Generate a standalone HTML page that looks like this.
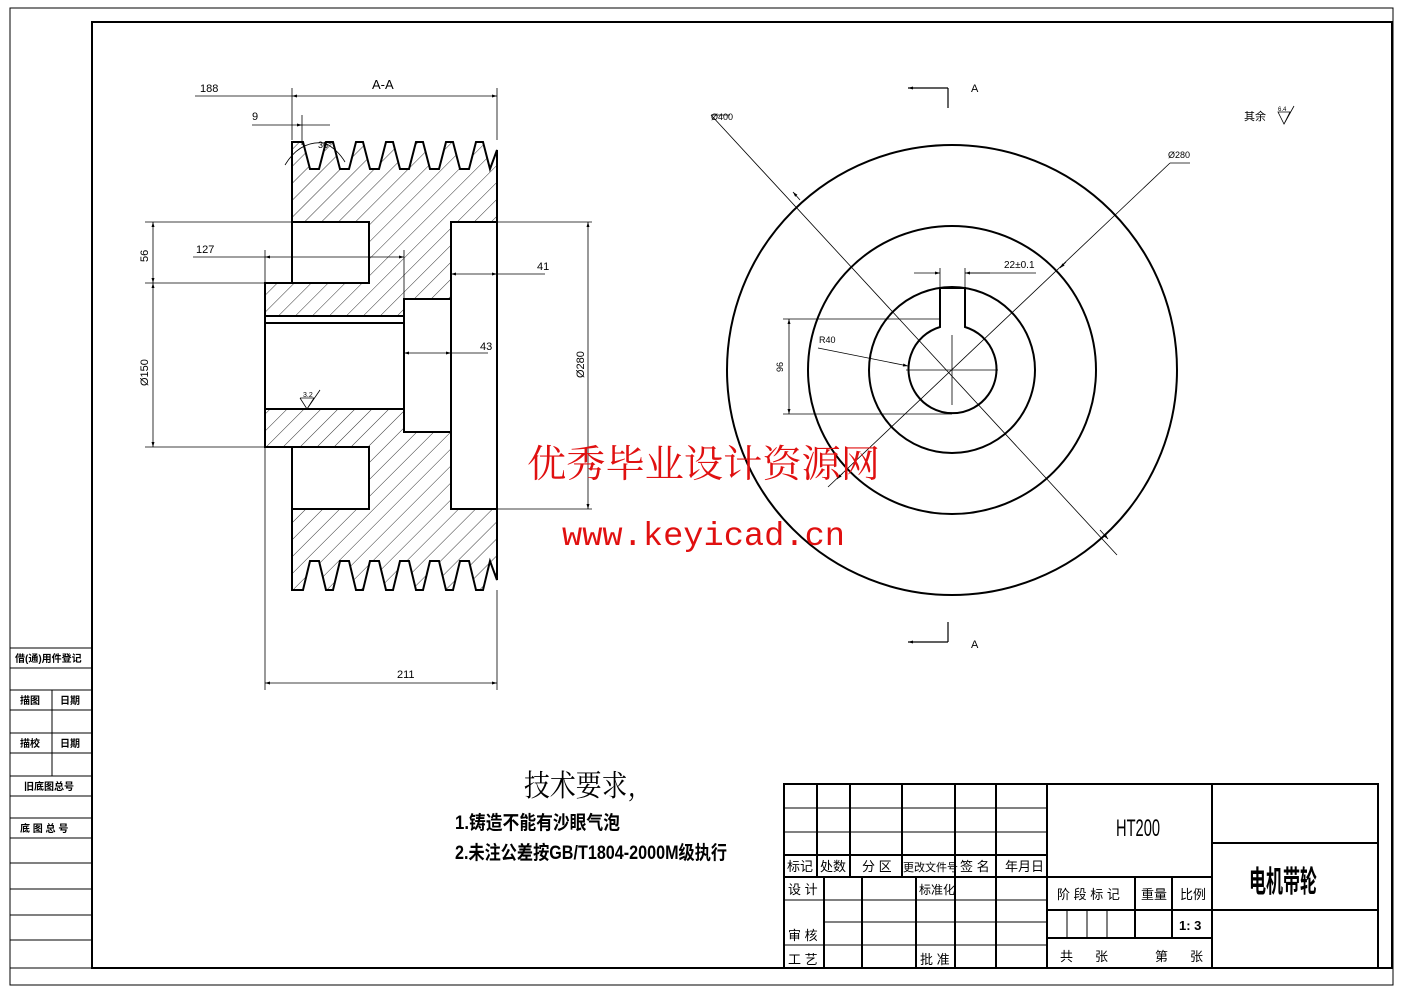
<!DOCTYPE html>
<html><head><meta charset="utf-8"><style>
html,body{margin:0;padding:0;background:#fff;}
svg{display:block;}
text{font-family:"Liberation Sans","Noto Sans CJK SC",sans-serif;fill:#000;}
</style></head><body>
<svg width="1403" height="992" viewBox="0 0 1403 992" xmlns="http://www.w3.org/2000/svg">
<defs>
<pattern id="h" patternUnits="userSpaceOnUse" width="12" height="12" patternTransform="rotate(45)">
<line x1="0" y1="0" x2="0" y2="12" stroke="#000" stroke-width="0.8"/>
</pattern>
<marker id="a" viewBox="0 0 10 10" refX="10" refY="5" markerWidth="8" markerHeight="5" orient="auto-start-reverse" markerUnits="userSpaceOnUse"><path d="M0,2 L10,5 L0,8z" fill="#000"/></marker>
</defs>

<rect x="10" y="8" width="1383" height="977" fill="none" stroke="#000" stroke-width="1"/>
<rect x="92" y="22" width="1300" height="946" fill="none" stroke="#000" stroke-width="2"/>

<g stroke="#000" stroke-width="1" fill="none">
<rect x="10" y="648" width="82" height="320"/>
<line x1="10" y1="668" x2="92" y2="668"/><line x1="10" y1="690" x2="92" y2="690"/>
<line x1="10" y1="710" x2="92" y2="710"/><line x1="10" y1="733" x2="92" y2="733"/>
<line x1="10" y1="753" x2="92" y2="753"/><line x1="10" y1="776" x2="92" y2="776"/>
<line x1="10" y1="796" x2="92" y2="796"/><line x1="10" y1="818" x2="92" y2="818"/>
<line x1="10" y1="838" x2="92" y2="838"/><line x1="10" y1="863" x2="92" y2="863"/>
<line x1="10" y1="889" x2="92" y2="889"/><line x1="10" y1="915" x2="92" y2="915"/>
<line x1="10" y1="940" x2="92" y2="940"/>
<line x1="52" y1="690" x2="52" y2="776"/>
</g>
<g font-size="10" font-weight="bold">
<text x="15" y="662">借(通)用件登记</text>
<text x="20" y="704">描图</text><text x="60" y="704">日期</text>
<text x="20" y="747">描校</text><text x="60" y="747">日期</text>
<text x="24" y="790">旧底图总号</text>
<text x="20" y="832">底 图 总 号</text>
</g>

<path d="M292,222 L292,142 L303,142 L310,169 L319,169 L326,142 L333,142 L340,169 L349,169 L356,142 L363,142 L370,169 L379,169 L386,142 L393,142 L400,169 L409,169 L416,142 L423,142 L430,169 L439,169 L446,142 L453,142 L460,169 L469,169 L476,142 L483,142 L490,169 L497,150 L497,580 L490,561 L483,590 L476,590 L469,561 L460,561 L453,590 L446,590 L439,561 L430,561 L423,590 L416,590 L409,561 L400,561 L393,590 L386,590 L379,561 L370,561 L363,590 L356,590 L349,561 L340,561 L333,590 L326,590 L319,561 L310,561 L303,590 L292,590 L292,509 L292,447 L265,447 L265,283 L292,283 Z" fill="url(#h)" stroke="#000" stroke-width="2"/>
<g fill="#fff" stroke="#000" stroke-width="2">
<rect x="292" y="222" width="77" height="61"/>
<rect x="292" y="447" width="77" height="62"/>
<rect x="265" y="316" width="139" height="93"/>
<rect x="404" y="299" width="47" height="133"/>
<rect x="451" y="222" width="46" height="287"/>
</g>
<line x1="265" y1="323" x2="404" y2="323" stroke="#000" stroke-width="2"/>
<line x1="265" y1="316" x2="265" y2="409" stroke="#000" stroke-width="2"/>

<g stroke="#000" stroke-width="0.8" fill="none">
<line x1="195" y1="96" x2="292" y2="96"/>
<line x1="292" y1="96" x2="497" y2="96" marker-start="url(#a)" marker-end="url(#a)"/>
<line x1="292" y1="88" x2="292" y2="140"/><line x1="497" y1="88" x2="497" y2="140"/>
<line x1="252" y1="125" x2="302" y2="125" marker-end="url(#a)"/>
<line x1="302" y1="125" x2="330" y2="125"/>
<line x1="302" y1="115" x2="302" y2="145"/>
<path d="M285,165 Q300,140 325,143 Q338,150 345,162"/>
<line x1="145" y1="222" x2="292" y2="222"/><line x1="145" y1="283" x2="265" y2="283"/>
<line x1="145" y1="447" x2="265" y2="447"/>
<line x1="153" y1="222" x2="153" y2="283" marker-start="url(#a)" marker-end="url(#a)"/>
<line x1="153" y1="283" x2="153" y2="447" marker-start="url(#a)" marker-end="url(#a)"/>
<line x1="193" y1="257" x2="265" y2="257"/>
<line x1="265" y1="257" x2="404" y2="257" marker-start="url(#a)" marker-end="url(#a)"/>
<line x1="265" y1="250" x2="265" y2="283"/><line x1="404" y1="250" x2="404" y2="299"/>
<line x1="451" y1="274" x2="497" y2="274" marker-start="url(#a)" marker-end="url(#a)"/>
<line x1="497" y1="274" x2="545" y2="274"/>
<line x1="404" y1="353" x2="451" y2="353" marker-start="url(#a)" marker-end="url(#a)"/>
<line x1="451" y1="353" x2="488" y2="353"/>
<line x1="497" y1="222" x2="592" y2="222"/><line x1="497" y1="509" x2="592" y2="509"/>
<line x1="588" y1="222" x2="588" y2="509" marker-start="url(#a)" marker-end="url(#a)"/>
<line x1="265" y1="447" x2="265" y2="690"/><line x1="497" y1="590" x2="497" y2="690"/>
<line x1="265" y1="683" x2="497" y2="683" marker-start="url(#a)" marker-end="url(#a)"/>
<path d="M300,398 L307,409 L314,398 L300,398 M307,409 L320,390"/>
</g>
<g font-size="11">
<text x="200" y="92">188</text>
<text x="372" y="89" font-size="13">A-A</text>
<text x="252" y="120">9</text>
<text x="318" y="148" font-size="9">36°</text>
<text x="196" y="253">127</text>
<text x="537" y="270">41</text>
<text x="480" y="350">43</text>
<text x="397" y="678">211</text>
<text x="303" y="397" font-size="7">3.2</text>
<text transform="translate(148,262) rotate(-90)">56</text>
<text transform="translate(148,386) rotate(-90)">Ø150</text>
<text transform="translate(584,378) rotate(-90)">Ø280</text>
</g>

<g stroke="#000" stroke-width="2" fill="none">
<circle cx="952" cy="370" r="225"/>
<circle cx="952" cy="370" r="144"/>
<circle cx="952" cy="370" r="83"/>
<path d="M940,327 A44,44 0 1 0 965,327 L965,288 L940,288 Z" fill="#fff"/>
</g>
<g stroke="#000" stroke-width="0.8" fill="none">
<line x1="711" y1="115" x2="1117" y2="555"/>
<line x1="800" y1="200" x2="793" y2="192" marker-end="url(#a)"/>
<line x1="1100" y1="530" x2="1108" y2="539" marker-end="url(#a)"/>
<line x1="1170" y1="163" x2="828" y2="487"/>
<line x1="1060" y1="268" x2="1066" y2="262" marker-start="url(#a)"/>
<line x1="843" y1="473" x2="837" y2="479" marker-end="url(#a)"/>
<line x1="906" y1="370" x2="998" y2="370"/>
<line x1="952" y1="335" x2="952" y2="405"/>
<line x1="940" y1="268" x2="940" y2="290"/><line x1="965" y1="268" x2="965" y2="290"/>
<line x1="914" y1="273" x2="940" y2="273" marker-end="url(#a)"/>
<line x1="990" y1="273" x2="965" y2="273" marker-end="url(#a)"/>
<line x1="965" y1="273" x2="1036" y2="273"/>
<line x1="783" y1="319" x2="940" y2="319"/><line x1="783" y1="414" x2="952" y2="414"/>
<line x1="789" y1="319" x2="789" y2="414" marker-start="url(#a)" marker-end="url(#a)"/>
<line x1="818" y1="348" x2="908" y2="366" marker-end="url(#a)"/>
<line x1="711" y1="115" x2="730" y2="115"/>
<line x1="1170" y1="163" x2="1190" y2="163"/>
</g>
<g stroke="#000" stroke-width="1.2" fill="none">
<path d="M948,88 L948,108"/><path d="M948,642 L948,622"/>
<line x1="948" y1="88" x2="908" y2="88" marker-end="url(#a)"/>
<line x1="948" y1="642" x2="908" y2="642" marker-end="url(#a)"/>
<path d="M1278,112 L1284,124 L1290,112 Z M1284,124 L1294,106" stroke-width="0.8"/>
</g>
<g font-size="11">
<text x="971" y="92">A</text><text x="971" y="648">A</text>
<text x="711" y="120" font-size="9">Ø400</text>
<text x="1168" y="158" font-size="9">Ø280</text>
<text x="1004" y="268" font-size="10">22±0.1</text>
<text x="819" y="343" font-size="9">R40</text>
<text transform="translate(783,372) rotate(-90)" font-size="9">96</text>
<text x="1244" y="120" font-size="11">其余</text>
<text x="1278" y="111" font-size="6">6.4</text>
</g>

<text x="527" y="477" font-size="38" textLength="353" lengthAdjust="spacingAndGlyphs" style="fill:#e01010;font-family:'Noto Serif CJK SC','Liberation Serif',serif">优秀毕业设计资源网</text>
<text x="562" y="545" font-size="33" textLength="283" lengthAdjust="spacingAndGlyphs" style="fill:#e01010;font-family:'Liberation Mono',monospace">www.keyicad.cn</text>

<text x="524" y="796" font-size="30" textLength="112" lengthAdjust="spacingAndGlyphs" style="font-family:'Noto Serif CJK SC','Liberation Serif',serif">技术要求,</text>
<text x="455" y="829" font-size="19" font-weight="bold" textLength="165" lengthAdjust="spacingAndGlyphs">1.铸造不能有沙眼气泡</text>
<text x="455" y="859" font-size="19" font-weight="bold" textLength="272" lengthAdjust="spacingAndGlyphs">2.未注公差按GB/T1804-2000M级执行</text>

<g stroke="#000" stroke-width="2" fill="none">
<rect x="784" y="784" width="594" height="184"/>
<line x1="1047" y1="784" x2="1047" y2="968"/>
<line x1="1212" y1="784" x2="1212" y2="968"/>
<line x1="1212" y1="843" x2="1378" y2="843"/>
<line x1="1212" y1="910" x2="1378" y2="910"/>
<line x1="1047" y1="877" x2="1212" y2="877"/>
<line x1="1047" y1="910" x2="1212" y2="910"/>
<line x1="1047" y1="938" x2="1212" y2="938"/>
<line x1="1135" y1="877" x2="1135" y2="938"/>
<line x1="1172" y1="877" x2="1172" y2="938"/>
<line x1="784" y1="877" x2="1047" y2="877"/>
<line x1="784" y1="855" x2="1047" y2="855"/>
<line x1="817" y1="784" x2="817" y2="877"/>
<line x1="850" y1="784" x2="850" y2="877"/>
<line x1="902" y1="784" x2="902" y2="877"/>
<line x1="955" y1="784" x2="955" y2="968"/>
<line x1="996" y1="784" x2="996" y2="968"/>
<line x1="824" y1="877" x2="824" y2="968"/>
<line x1="862" y1="877" x2="862" y2="968"/>
<line x1="916" y1="877" x2="916" y2="968"/>
</g>
<g stroke="#000" stroke-width="1" fill="none">
<line x1="784" y1="808" x2="1047" y2="808"/>
<line x1="784" y1="832" x2="1047" y2="832"/>
<line x1="784" y1="900" x2="1047" y2="900"/>
<line x1="824" y1="922" x2="1047" y2="922"/>
<line x1="784" y1="945" x2="1047" y2="945"/>
<line x1="1067" y1="910" x2="1067" y2="938"/>
<line x1="1087" y1="910" x2="1087" y2="938"/>
<line x1="1107" y1="910" x2="1107" y2="938"/>
</g>
<g font-size="13">
<text x="787" y="871">标记</text><text x="820" y="871">处数</text><text x="862" y="871">分 区</text>
<text x="903" y="871" font-size="11">更改文件号</text><text x="960" y="871">签 名</text><text x="1005" y="871">年月日</text>
<text x="788" y="894">设 计</text><text x="919" y="894" font-size="12">标准化</text>
<text x="788" y="940">审 核</text><text x="788" y="964">工 艺</text><text x="920" y="964">批 准</text>
<text x="1057" y="899">阶 段 标 记</text><text x="1141" y="899">重量</text><text x="1180" y="899">比例</text>
<text x="1179" y="930" font-weight="bold">1: 3</text>
<text x="1060" y="961">共</text><text x="1095" y="961">张</text><text x="1155" y="961">第</text><text x="1190" y="961">张</text>
<text x="1116" y="836" font-size="24" textLength="44" lengthAdjust="spacingAndGlyphs">HT200</text>
<text x="1249" y="892" font-size="30" font-weight="bold" textLength="68" lengthAdjust="spacingAndGlyphs">电机带轮</text>
</g>
</svg>
</body></html>
